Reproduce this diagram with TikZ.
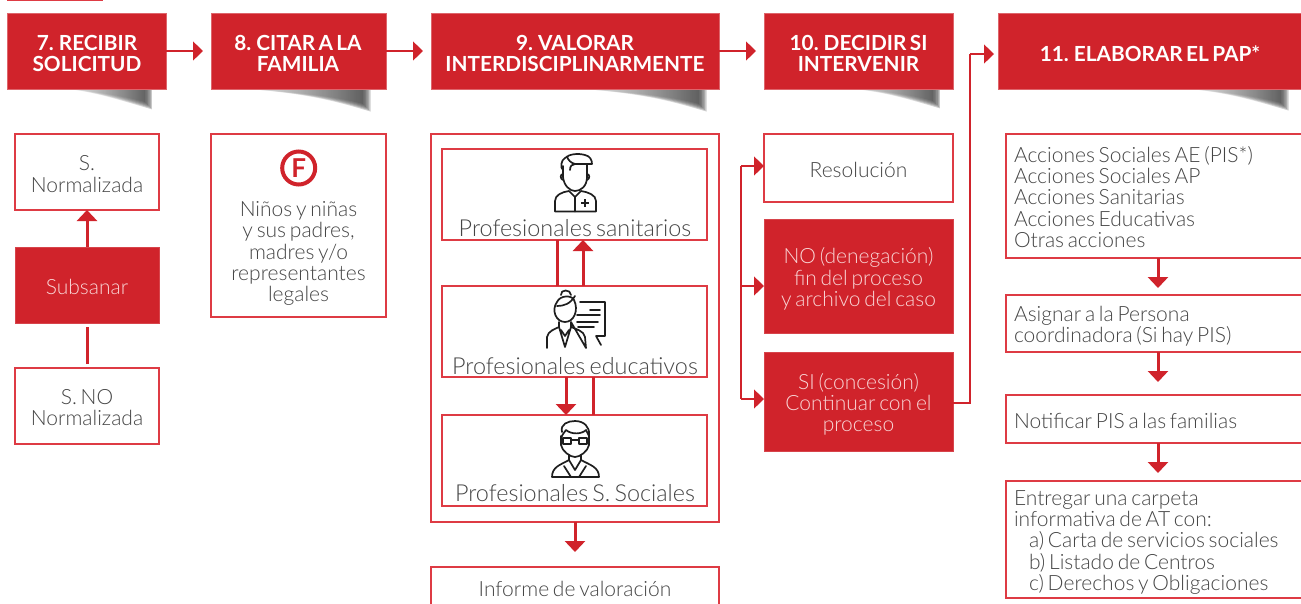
\documentclass[tikz,border=0pt]{standalone}
\usepackage{fontspec}
\setmainfont{Lato}[UprightFont=* Light,BoldFont=* Bold,WordSpace=0.66]
\usetikzlibrary{arrows.meta,calc}
\definecolor{rd}{HTML}{D0232B}
\definecolor{edge}{HTML}{DE3B44}
\definecolor{txt}{HTML}{454545}
\definecolor{pale}{HTML}{F9D5D5}
\definecolor{ink}{HTML}{1E1E1E}
\tikzset{
 x=1pt,y=-1pt,
 rbox/.style={rectangle,inner sep=0pt,outer sep=0pt,align=center},
 head/.style={rbox,fill=rd,draw=rd!70!white,line width=.8pt},
 headt/.style={inner sep=0pt,outer sep=0pt,align=center,text=white,font=\fontsize{20.8}{21}\bfseries\selectfont},
 solid box/.style={rbox,fill=rd,draw=rd!85!white,line width=.8pt},
 solidt/.style={inner sep=0pt,outer sep=0pt,align=center,text=pale,font=\fontsize{21}{21.3}\selectfont},
 plain/.style={rbox,fill=white,draw=edge,line width=1.05pt},
 lab/.style={inner sep=0pt,outer sep=0pt,align=center,text=txt,font=\fontsize{21}{21.3}\selectfont},
 labbig/.style={lab,font=\fontsize{23.4}{24}\selectfont},
 lableft/.style={lab,align=left,anchor=west},
 thinarrow/.style={draw=rd,line width=1.2pt,-{Triangle[length=10pt,width=19pt]}},
 thinline/.style={draw=rd,line width=1.2pt},
 fatarrow/.style={draw=rd,line width=3pt,-{Triangle[length=11pt,width=20pt]}},
 fatline/.style={draw=rd,line width=3pt},
 icon/.style={draw=ink,line width=1.7pt,line cap=round,line join=round,fill=none},
}
\newcommand{\mkbox}[7]{\node[#2,minimum width={(#5)-(#3)},minimum height={(#6)-(#4)}] (#1) at ({((#3)+(#5))/2},{((#4)+(#6))/2}) {#7};}
\newcommand{\wedgeshadow}[3]{%
 \foreach \k in {0,1,...,5}{
 \shade[left color=white,middle color=black!14,right color=black!78,opacity=.25]
   (#1,88) -- (#2-8+1.5*\k,88) -- (#2-8+1.5*\k,#3-8+1.5*\k) .. controls (#2-30,#3-14+\k) and (#2-60,#3-19) .. cycle;
 }
}
\begin{document}
\begin{tikzpicture}
\useasboundingbox (0,0) rectangle (1301,603);
\clip (0,0) rectangle (1301,603);
\fill[white] (0,0) rectangle (1301,603);
% fragment at the very top
\draw[edge,line width=1.3pt] (7,0.8) -- (103,0.8);
% shadows
\wedgeshadow{60}{153}{110}
\wedgeshadow{235}{371}{112}
\wedgeshadow{570}{707}{112}
\wedgeshadow{840}{941}{109}
\wedgeshadow{1180}{1289}{111}
% headers
\mkbox{hA}{head}{7}{13}{166}{89}{}
\mkbox{hB}{head}{211}{13}{386}{89}{}
\mkbox{hC}{head}{431}{13}{719}{89}{}
\mkbox{hD}{head}{764}{13}{953}{89}{}
\mkbox{hE}{head}{998}{13}{1304}{89}{}
\node[headt] (hAt) at (87,53) {7. RECIBIR\\SOLICITUD};
\node[headt] (hBt) at (298,53) {8. CITAR A LA\\FAMILIA};
\node[headt] (hCt) at (575,53) {9. VALORAR\\INTERDISCIPLINARMENTE};
\node[headt] (hDt) at (858.5,53) {10. DECIDIR SI\\INTERVENIR};
\node[headt] (hEt) at (1150,54) {11. ELABORAR EL PAP*};
\draw[thinarrow,shorten >=8pt] (hA.east) -- (hB.west);
\draw[thinarrow,shorten >=8pt] (hB.east) -- (hC.west);
\draw[thinarrow,shorten >=8pt] (hC.east) -- (hD.west);
% column 7
\mkbox{sn}{plain}{15}{134}{159}{210}{}
\node[lab] (snt) at (87,174) {S.\\Normalizada};
\mkbox{sub}{solid box}{15}{247}{159}{323}{}
\node[solidt] (subt) at (87,287) {Subsanar};
\mkbox{sno}{plain}{15}{368}{159}{444}{}
\node[lab] (snot) at (87,407.5) {S. NO\\Normalizada};
\draw[fatarrow] (sub.north) -- (sn.south);
\draw[fatline,shorten >=4pt,shorten <=4pt] (sno.north) -- (sub.south);
% column 8
\mkbox{fam}{plain}{211}{134}{386}{317}{}
\node[lab] (famt) at (298.5,253.5) {Niños y niñas\\y sus padres,\\madres y/o\\representantes\\legales};
\node[circle,draw=rd,line width=4pt,fill=white,minimum size=33pt,inner sep=0pt,text=rd,font=\fontsize{26}{26}\bfseries\selectfont] (fcirc) at (298.7,168) {F};
% column 9
\mkbox{big}{plain}{431}{134}{719}{522}{}
\mkbox{san}{plain}{442}{149}{707}{240}{}
\mkbox{edu}{plain}{442}{286}{707}{377}{}
\mkbox{soc}{plain}{442}{415}{707}{506}{}
\node[labbig] (sant) at (575,228) {Profesionales sanitarios};
\node[labbig] (edut) at (575,366) {Profesionales educativos};
\node[labbig] (soct) at (575,493) {Profesionales S. Sociales};
\coordinate (a1) at (557,286); \coordinate (a2) at (583,286);
\coordinate (b1) at (566,377); \coordinate (b2) at (593,377);
\draw[fatline] (a1) -- (a1 |- san.south);
\draw[fatarrow] (a2) -- (a2 |- san.south);
\draw[fatarrow] (b1) -- (b1 |- soc.north);
\draw[fatline] (b2) -- (b2 |- soc.north);
\mkbox{inf}{plain}{431}{567}{719}{612}{}
\node[lab] (inft) at (575,589) {Informe de valoración};
\draw[fatarrow,shorten >=15pt] (big.south) -- (inf.north);
% icons
\begin{scope}[icon]
 % sanitario
 \draw (563,166) -- (563,177) .. controls (564,186) and (570,191) .. (575,191) .. controls (581,191) and (587,186) .. (587,177) -- (587,165);
 \draw (563,170) .. controls (560,168) and (561,160) .. (565,158) .. controls (569,154) and (578,153) .. (585,155) .. controls (590,156) and (592,160) .. (592,164) -- (575,164) .. controls (572,164) and (570,166) .. (570,170);
 \draw (567,156.5) .. controls (568,160) and (571,163) .. (575,164);
 \draw (563,174) .. controls (560,174) and (560,179) .. (563,180);
 \draw (587,174) .. controls (590,174) and (590,179) .. (587,180);
 \draw (555,211.5) -- (555,201) .. controls (555,195) and (562,192) .. (569,191) -- (575,197) -- (581,191) .. controls (588,192) and (596,195) .. (596,201) -- (596,211.5) -- cycle;
 \draw (575,197) -- (575,211.5);
 \draw[line width=2.2pt,line cap=butt] (581,203) -- (589,203) (585,199) -- (585,207);
 % educativo
 \draw (557,302) .. controls (551,310) and (556,322) .. (565,322) .. controls (574,322) and (579,310) .. (574,300) .. controls (572,295) and (560,295) .. (557,302) -- cycle;
 \draw (557,306) .. controls (564,306) and (570,304) .. (575,296);
 \draw (561,295) .. controls (560,289) and (571,289) .. (571,295);
 \draw (547,348) -- (547,337) .. controls (548,331) and (555,329) .. (559,327) -- (559,322) (571,322) -- (571,327) .. controls (576,329) and (584,331) .. (585,337) -- (586,348) -- cycle;
 \draw (559,327) -- (565,347) -- (571,327) (561,330) -- (565,336) -- (569,330);
 \draw (580,302) -- (605,302) -- (605,336) -- (596,336) -- (601,345);
 \draw (590,310) -- (600,310) (577,315) -- (600,315) (577,322) -- (598,322) (578,327) -- (594,327);
 % sociales
 \draw (562,432) .. controls (560,424) and (568,421) .. (575,421) .. controls (584,421) and (590,427) .. (589,435) -- (589,445) .. controls (588,451) and (580,457) .. (575,457) .. controls (570,457) and (562,451) .. (561,445) -- (561,436);
 \draw (561,438) .. controls (563,433) and (565,432) .. (566,430) .. controls (572,435) and (582,434) .. (586,430) -- (589,436);
 \draw (563,438) -- (571,438) -- (571,444) -- (563,444) -- cycle (579,438) -- (587,438) -- (587,444) -- (579,444) -- cycle (571,440) -- (579,440);
 \draw (552,477) .. controls (552,467) and (560,465) .. (569,460) -- (575,470) -- (581,460) .. controls (590,465) and (599,467) .. (599,477) -- cycle;
 \draw (569,460) -- (569,455) (581,460) -- (581,455);
 \draw (564,466) -- (571,477) (586,466) -- (579,477);
\end{scope}
% column 10
\mkbox{res}{plain}{764}{134}{953}{202}{}
\node[lab] (rest) at (858.5,170) {Resolución};
\mkbox{nob}{solid box}{764}{219}{953}{333}{}
\node[solidt] (nobt) at (858.5,279) {NO (denegación)\\fin del proceso\\y archivo del caso};
\mkbox{sib}{solid box}{764}{352}{953}{451}{}
\node[solidt] (sibt) at (858.5,404.5) {SI (concesión)\\Continuar con el\\proceso};
\coordinate (busT) at (741,166);
\coordinate (busN) at (741,286);
\coordinate (busS) at (741,399);
\draw[thinline] (busT) -- (busS);
\draw[thinarrow] (busT) -- (busT -| res.west);
\draw[thinarrow] (busN) -- (busN -| nob.west);
\draw[thinarrow] (busS) -- (busS -| sib.west);
\coordinate (up) at (970,403);
\coordinate (upE) at (970,54);
\draw[thinline] (up -| sib.east) -- (up) -- (upE);
\draw[thinarrow,shorten >=4pt] (upE) -- (upE -| hE.west);
% column 11
\mkbox{acc}{plain}{1006}{134}{1306}{258}{}
\node[lableft] (acct) at (1014,197) {Acciones Sociales AE (PIS*)\\Acciones Sociales AP\\Acciones Sanitarias\\Acciones Educativas\\Otras acciones};
\mkbox{asi}{plain}{1006}{295}{1306}{352}{}
\node[lableft] (asit) at (1014,326) {Asignar a la Persona\\coordinadora (Si hay PIS)};
\mkbox{nti}{plain}{1006}{395}{1306}{443}{}
\node[lableft] (ntit) at (1014,421) {Notificar PIS a las familias};
\mkbox{ent}{plain}{1006}{481}{1306}{598}{}
\node[lableft] (entt) at (1014,542.5) {Entregar una carpeta\\informativa de AT con:\\\hspace*{15pt}a) Carta de servicios sociales\\\hspace*{15pt}b) Listado de Centros\\\hspace*{15pt}c) Derechos y Obligaciones};
\coordinate (c1) at (1158,258); \coordinate (c2) at (1158,352); \coordinate (c3) at (1158,443);
\draw[fatarrow,shorten >=7pt] (c1) -- (c1 |- asi.north);
\draw[fatarrow,shorten >=13pt] (c2) -- (c2 |- nti.north);
\draw[fatarrow,shorten >=8pt] (c3) -- (c3 |- ent.north);
\end{tikzpicture}
\end{document}
